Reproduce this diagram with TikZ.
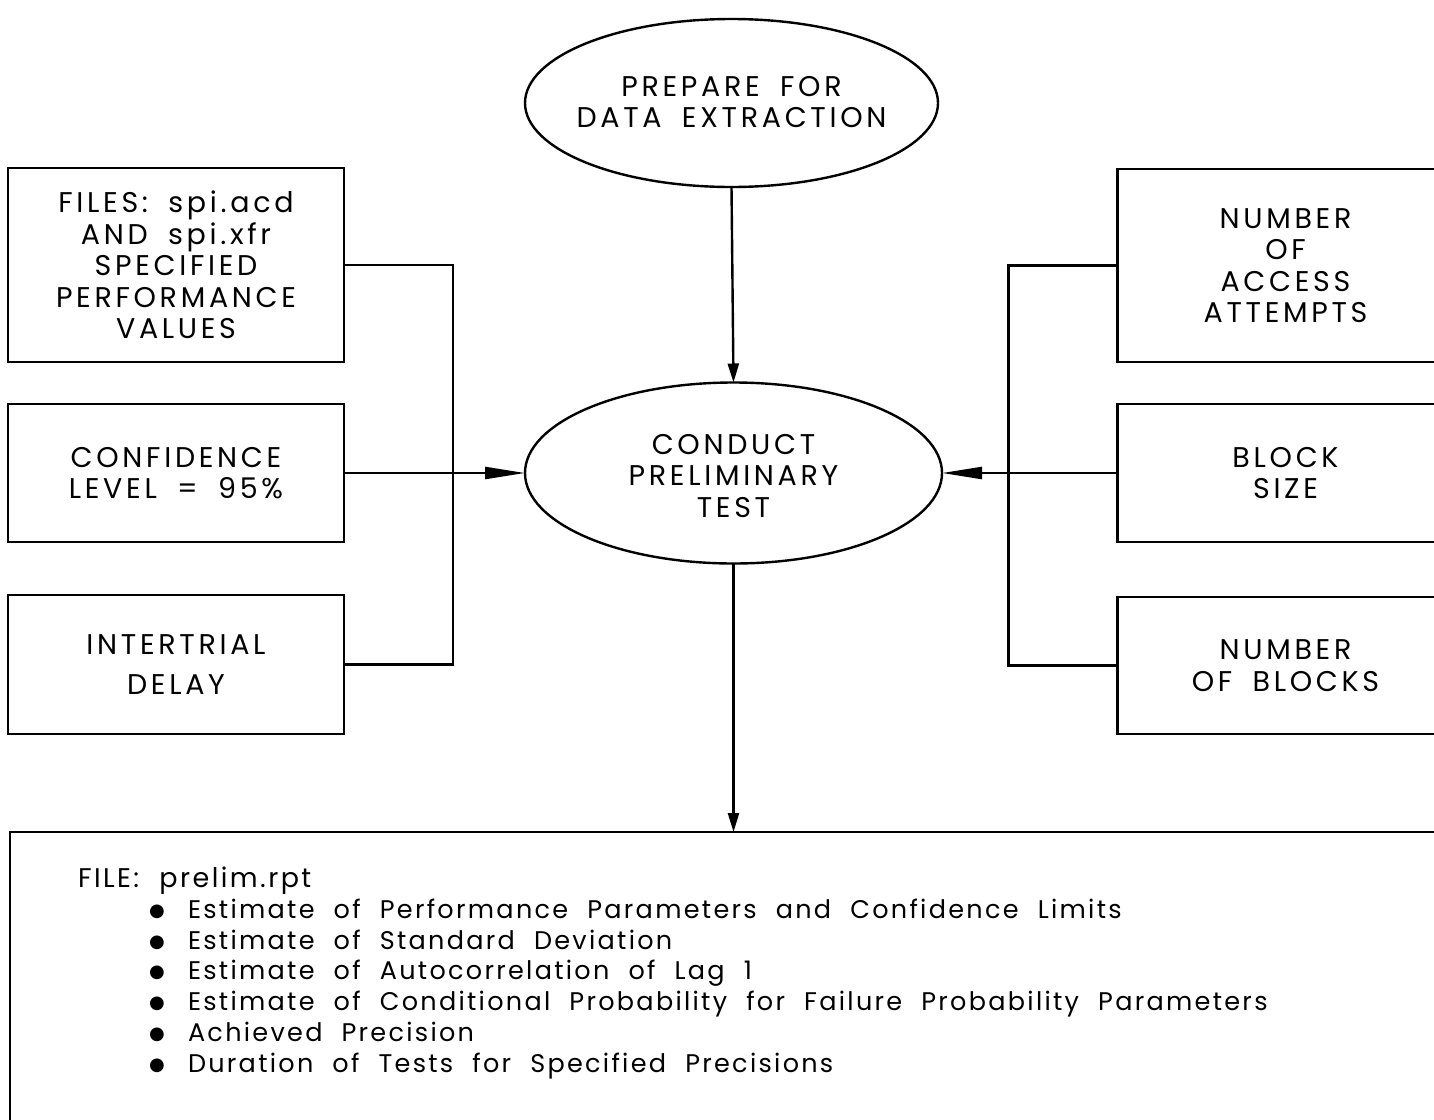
\documentclass[tikz,border=0pt]{standalone}
\usepackage{fontspec}
\setmainfont{Poppins}[LetterSpace=13,WordSpace=1.8]
\newfontfamily\listfont{Poppins}[LetterSpace=9,WordSpace=2.1]
\newfontfamily\dotfont{DejaVu Sans}
\newcommand\listdot{\raisebox{2pt}{\dotfont\fontsize{18}{18}\selectfont ●}}
\usetikzlibrary{shapes.geometric,arrows.meta}

\begin{document}
\begin{tikzpicture}[x=1pt,y=-1pt,
  line width=2.4pt,
  every node/.style={inner sep=0pt,outer sep=0pt},
  boxtext/.style={font=\fontsize{28.5}{31.5}\selectfont,align=center},
  inbox/.style={draw,rectangle,minimum width=336pt,boxtext},
  oval/.style={draw,ellipse,inner sep=0pt},
  harrow/.style={-{Triangle[length=40pt,width=12pt]}},
  varrow/.style={-{Triangle[length=19pt,width=11pt]}}]

\useasboundingbox (0,0) rectangle (1434,1119);
\clip (0,0) rectangle (1434,1119);

% central process ovals
\node[oval,minimum width=413pt,minimum height=168pt] (prepare) at (731.5,103) {};
\node[boxtext] (prepareText) at (731.5,102) {PREPARE FOR\\DATA EXTRACTION};

\node[oval,minimum width=417pt,minimum height=181pt] (conduct) at (733.5,473) {};
\node[boxtext] (conductText) at (733.5,476) {CONDUCT\\PRELIMINARY\\TEST};

% inputs on the left
\node[inbox,minimum height=194pt] (lFiles) at (176,265) {FILES: spi.acd\\AND spi.xfr\\SPECIFIED\\PERFORMANCE\\VALUES};
\node[inbox,minimum height=138pt] (lConf) at (176,473) {CONFIDENCE\\LEVEL = 95\%};
\node[inbox,minimum height=139pt,font=\fontsize{28.5}{40}\selectfont] (lDelay) at (176,664.5) {INTERTRIAL\\DELAY};

% inputs on the right
\node[inbox,minimum height=193pt] (rAccess) at (1285.5,265.5) {NUMBER\\OF\\ACCESS\\ATTEMPTS};
\node[inbox,minimum height=138pt] (rSize) at (1285.5,473) {BLOCK\\SIZE};
\node[inbox,minimum height=137pt] (rBlocks) at (1285.5,665.5) {NUMBER\\OF BLOCKS};

% output report
\node[draw,rectangle,minimum width=1450pt,minimum height=310pt] (report) at (735,987) {};
\node[anchor=north west,align=left,font=\listfont\fontsize{25.5}{30.8}\selectfont] (reportText) at (78,867)
{{\fontsize{27}{30.8}\selectfont FILE: prelim.rpt}\\
\hspace*{71pt}\makebox[39pt][l]{\listdot}Estimate of Performance Parameters and Confidence Limits\\
\hspace*{71pt}\makebox[39pt][l]{\listdot}Estimate of Standard Deviation\\
\hspace*{71pt}\makebox[39pt][l]{\listdot}Estimate of Autocorrelation of Lag 1\\
\hspace*{71pt}\makebox[39pt][l]{\listdot}Estimate of Conditional Probability for Failure Probability Parameters\\
\hspace*{71pt}\makebox[39pt][l]{\listdot}Achieved Precision\\
\hspace*{71pt}\makebox[39pt][l]{\listdot}Duration of Tests for Specified Precisions};

% connectors
\draw[varrow] (prepare.south) -- (conduct.north);
\draw[varrow] (conduct.south) -- (conduct.south |- report.north);

\draw (lFiles.east) -- ++(109,0) |- (lDelay.east);
\draw[harrow] (lConf.east) -- (conduct.west);

\draw (rAccess.west) -- ++(-109,0) |- (rBlocks.west);
\draw[harrow] (rSize.west) -- (conduct.east);
\end{tikzpicture}
\end{document}
